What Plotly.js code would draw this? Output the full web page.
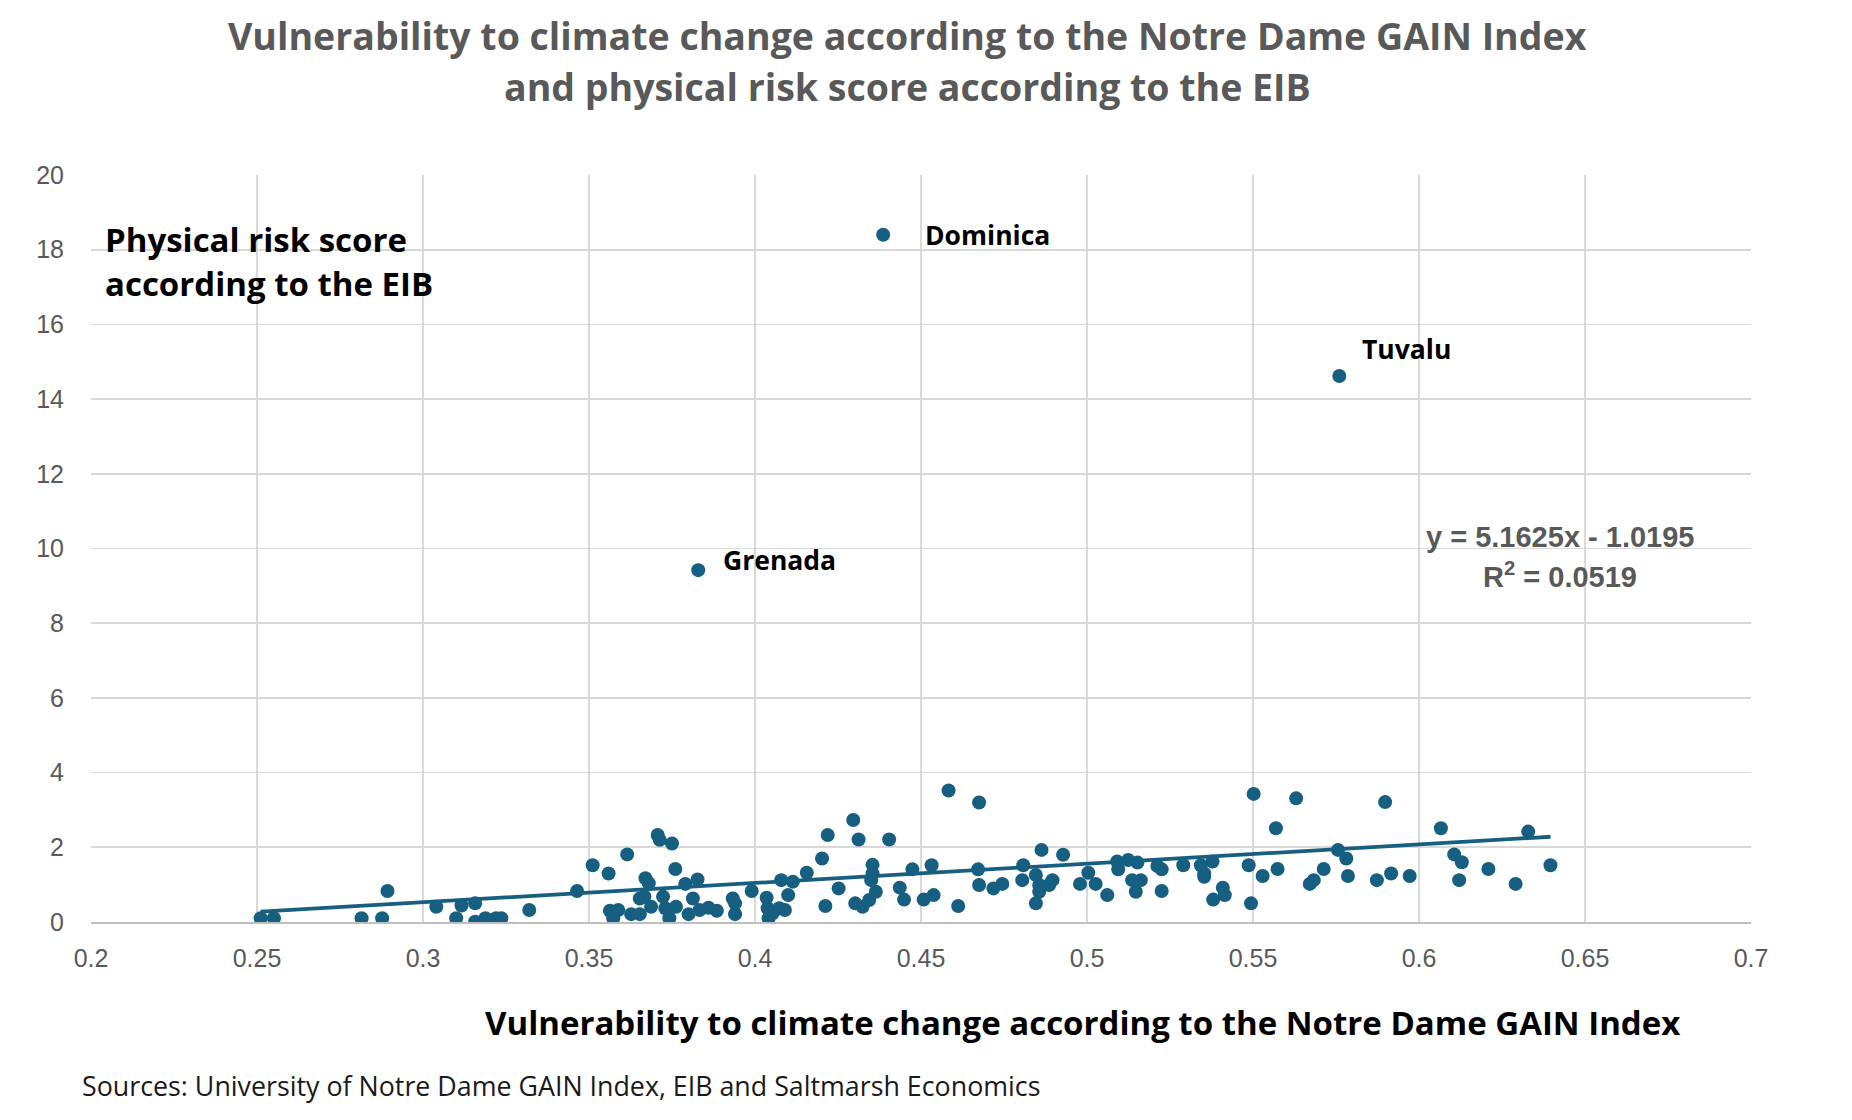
<!DOCTYPE html>
<html>
<head>
<meta charset="utf-8">
<script src="https://cdn.plot.ly/plotly-3.0.1.min.js"></script>
<style>html,body{margin:0;padding:0;background:#fff;}#chart{width:1852px;height:1120px;}</style>
</head>
<body>
<div id="chart"></div>
<script>
// ---- Data ----
const gainIndex = [
  0.2511,0.2551,0.2815,0.2877,0.2893,0.304,0.310,0.3116,0.3157,0.3157,0.3188,0.322,0.3236,0.332,0.3464,
  0.3511,0.3559,0.3563,0.3573,0.3588,0.3615,0.3627,0.3653,0.3653,0.3670,0.368,0.3667,0.3687,0.3707,0.3713,
  0.3723,0.373,0.3742,0.375,0.3762,0.376,0.3790,0.380,0.3813,0.3827,0.3833,0.3860,0.3885,0.3933,0.394,
  0.394,0.399,0.4035,0.4038,0.4041,0.4053,0.4073,0.409,0.4079,0.410,0.4114,0.4156,0.4202,0.4212,0.4219,
  0.4252,0.4296,0.4312,0.4302,0.4324,0.4344,0.4354,0.4354,0.435,0.4364,0.4404,0.4436,0.4449,0.4474,0.4508,
  0.4532,0.4538,0.4583,0.4612,0.4672,0.4675,0.4675,0.4718,0.4745,0.4805,0.4808,0.4846,0.4846,0.4856,0.4863,
  0.4856,0.4896,0.4886,0.4928,0.4979,0.5004,0.5026,0.5061,0.5091,0.5094,0.5124,0.5136,0.5152,0.5147,0.5162,
  0.5212,0.5225,0.5225,0.529,0.5343,0.5353,0.5353,0.5378,0.538,0.5409,0.5415,0.5487,0.5494,0.5502,0.5529,
  0.5569,0.5574,0.5630,0.5671,0.5683,0.5713,0.5756,0.5781,0.5786,0.5873,0.5898,0.5916,0.5972,0.6066,0.6106,
  0.6129,0.6121,0.6209,0.6291,0.6329,0.6396,
  0.4386,0.5760,0.3829
];
const physicalRisk = [
  0.10,0.10,0.10,0.10,0.83,0.41,0.10,0.44,0.50,0.01,0.10,0.10,0.10,0.32,0.83,
  1.52,1.30,0.30,0.10,0.32,1.81,0.21,0.21,0.63,1.17,1.04,0.68,0.41,2.33,2.20,
  0.68,0.37,0.10,2.10,0.41,1.42,1.02,0.21,0.63,1.14,0.32,0.38,0.30,0.63,0.50,
  0.21,0.83,0.65,0.37,0.10,0.23,0.37,0.32,1.12,0.72,1.08,1.32,1.70,0.43,2.33,
  0.90,2.73,2.21,0.50,0.41,0.59,1.53,1.30,1.12,0.81,2.21,0.92,0.60,1.41,0.60,
  1.52,0.72,3.52,0.43,1.41,3.20,0.99,0.90,1.02,1.12,1.52,1.26,0.50,0.99,1.93,
  0.81,1.12,0.99,1.80,1.02,1.32,1.02,0.72,1.62,1.41,1.66,1.12,1.59,0.81,1.12,
  1.50,1.41,0.83,1.52,1.52,1.30,1.21,1.62,0.60,0.92,0.72,1.52,0.50,3.43,1.23,
  2.51,1.42,3.31,1.02,1.12,1.42,1.93,1.70,1.23,1.12,3.21,1.30,1.23,2.51,1.81,
  1.60,1.12,1.42,1.02,2.42,1.52,
  18.40,14.62,9.42
];
const labelledNames = ["Dominica", "Tuvalu", "Grenada"];
const labelledX = [0.4386, 0.5760, 0.3829];
const labelledY = [18.40, 14.62, 9.42];
const trendSlope = 5.1625;
const trendIntercept = -1.0195;
const rSquared = 0.0519;
const xTickVals = [0.2,0.25,0.3,0.35,0.4,0.45,0.5,0.55,0.6,0.65,0.7];
const xTickText = ["0.2","0.25","0.3","0.35","0.4","0.45","0.5","0.55","0.6","0.65","0.7"];
const yTickVals = [0,2,4,6,8,10,12,14,16,18,20];

const titleLine1 = "Vulnerability to climate change according to the Notre Dame GAIN Index";
const titleLine2 = "and physical risk score according to the EIB";
const yTitle1 = "Physical risk score";
const yTitle2 = "according to the EIB";
const xTitle = "Vulnerability to climate change according to the Notre Dame GAIN Index";
const sourceText = "Sources: University of Notre Dame GAIN Index, EIB and Saltmarsh Economics";

// ---- Styles ----
const FONT = "Open Sans, Lato, sans-serif";
const TICKFONT = "Liberation Sans, Arial, sans-serif";
const MARK = "#175f80";
const GREY = "#595959";

const xMin = Math.min(...gainIndex), xMax = Math.max(...gainIndex);
const trendX = [xMin, xMax];
const trendY = trendX.map(v => trendSlope * v + trendIntercept);

const labelShift = { Dominica: [40, 0], Tuvalu: [21, 27], Grenada: [23, 10] };

const traces = [
  { type: "scatter", mode: "markers", x: gainIndex, y: physicalRisk,
    marker: { color: MARK, size: 14 }, hoverinfo: "x+y" },
  { type: "scatter", mode: "lines", x: trendX, y: trendY,
    line: { color: MARK, width: 3.8 }, hoverinfo: "skip" }
];

const annotations = [
  { xref: "paper", yref: "paper", x: 0.492, y: 1.187, xanchor: "center", yanchor: "middle",
    text: "<b>" + titleLine1 + "</b>", showarrow: false, font: { family: FONT, size: 37.5, color: GREY } },
  { xref: "paper", yref: "paper", x: 0.492, y: 1.119, xanchor: "center", yanchor: "middle",
    text: "<b>" + titleLine2 + "</b>", showarrow: false, font: { family: FONT, size: 37.5, color: GREY } },
  { xref: "paper", yref: "paper", x: 0.0072, y: 0.913, xanchor: "left", yanchor: "middle",
    text: "<b>" + yTitle1 + "</b>", showarrow: false, font: { family: FONT, size: 33, color: "#000" } },
  { xref: "paper", yref: "paper", x: 0.0072, y: 0.855, xanchor: "left", yanchor: "middle",
    text: "<b>" + yTitle2 + "</b>", showarrow: false, font: { family: FONT, size: 33, color: "#000" } },
  { xref: "paper", yref: "paper", x: 0.597, y: -0.135, xanchor: "center", yanchor: "middle",
    text: "<b>" + xTitle + "</b>", showarrow: false, font: { family: FONT, size: 33, color: "#000" } },
  { xref: "paper", yref: "paper", x: -0.0066, y: -0.2195, xanchor: "left", yanchor: "middle",
    text: sourceText, showarrow: false, font: { family: FONT, size: 26.8, color: "#1a1a1a" } },
  { xref: "paper", yref: "paper", x: 0.885, y: 0.515, xanchor: "center", yanchor: "middle",
    text: "<b>y = " + trendSlope + "x - " + Math.abs(trendIntercept) + "</b>", showarrow: false,
    font: { family: TICKFONT, size: 29, color: GREY } },
  { xref: "paper", yref: "paper", x: 0.885, y: 0.4645, xanchor: "center", yanchor: "middle",
    text: "<b>R<sup>2</sup> = " + rSquared + "</b>", showarrow: false,
    font: { family: TICKFONT, size: 29, color: GREY } }
];
labelledNames.forEach((n, i) => {
  annotations.push({ x: labelledX[i], y: labelledY[i], xref: "x", yref: "y",
    xanchor: "left", yanchor: "middle", xshift: labelShift[n][0], yshift: labelShift[n][1],
    text: "<b>" + n + "</b>", showarrow: false, font: { family: FONT, size: 26.5, color: "#000" } });
});

const layout = {
  width: 1852, height: 1120,
  margin: { l: 91, r: 101, t: 175, b: 198 },
  paper_bgcolor: "#fff", plot_bgcolor: "#fff",
  showlegend: false,
  font: { family: FONT, color: GREY },
  xaxis: {
    range: [0.2, 0.7], tickvals: xTickVals, ticktext: xTickText,
    showgrid: true, gridcolor: "#d9d9d9", gridwidth: 1.6,
    zeroline: false, showline: true, linecolor: "#bfbfbf", linewidth: 1.6, mirror: false,
    ticks: "", ticklen: 0, ticklabelstandoff: 13,
    tickfont: { family: TICKFONT, size: 25, color: GREY }
  },
  yaxis: {
    range: [0, 20], tickvals: yTickVals,
    showgrid: true, gridcolor: "#d9d9d9", gridwidth: 1.6,
    zeroline: false, showline: false, ticks: "", ticklabelstandoff: 26,
    tickfont: { family: TICKFONT, size: 25, color: GREY }
  },
  annotations: annotations
};

Plotly.newPlot("chart", traces, layout, { staticPlot: true, displayModeBar: false });
</script>
</body>
</html>
